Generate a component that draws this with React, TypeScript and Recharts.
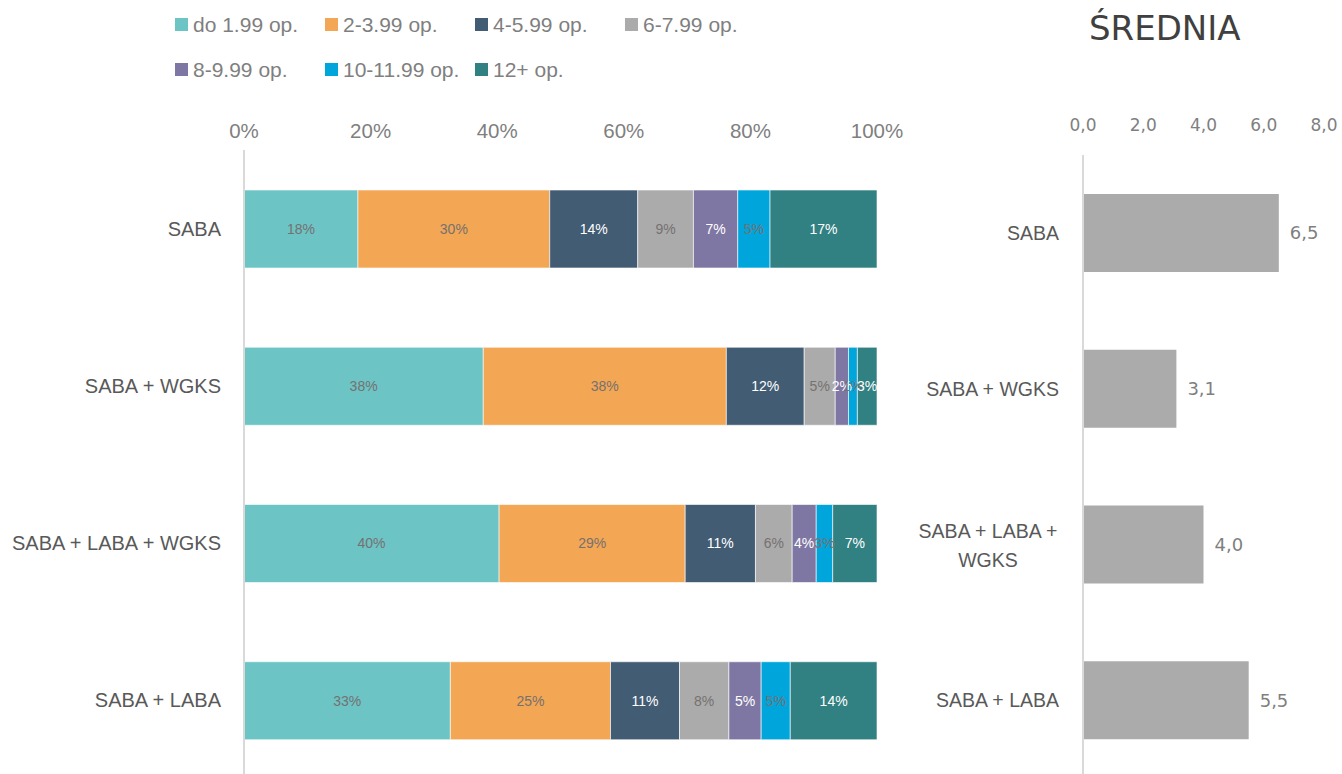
import React from 'react';
import { BarChart, Bar, XAxis, YAxis, LabelList } from 'recharts';

const categories = ['SABA', 'SABA + WGKS', 'SABA + LABA + WGKS', 'SABA + LABA'];

const seriesNames = ['do 1.99 op.', '2-3.99 op.', '4-5.99 op.', '6-7.99 op.', '8-9.99 op.', '10-11.99 op.', '12+ op.'];
const seriesColors = ['#6CC4C5', '#F3A653', '#425C74', '#ABABAB', '#7F77A3', '#00A5DC', '#318182'];
const labelColors = ['#767171', '#767171', '#FFFFFF', '#767171', '#FFFFFF', '#767171', '#FFFFFF'];

// share of patients per category, in %
const s1 = [18.0, 37.8, 40.3, 32.6];
const s2 = [30.3, 38.4, 29.4, 25.3];
const s3 = [13.9, 12.3, 11.1, 10.9];
const s4 = [8.8, 4.9, 5.8, 7.8];
const s5 = [7.0, 2.1, 3.8, 5.1];
const s6 = [5.1, 1.4, 2.6, 4.6];
const s7 = [16.9, 3.1, 7.0, 13.7];
const seriesValues = [s1, s2, s3, s4, s5, s6, s7];

const averages = [6.5, 3.1, 4.0, 5.5];

const pctTicks = [0, 20, 40, 60, 80, 100];
const avgTicks = [0, 2, 4, 6, 8];

const stackData = categories.map((name, i) => {
  const row: Record<string, string | number> = { name };
  seriesValues.forEach((vals, k) => {
    row['s' + k] = vals[i];
  });
  return row;
});

const avgData = categories.map((name, i) => ({ name, avg: averages[i] }));

const leftFont = '"Liberation Sans", Arial, sans-serif';
const rightFont = '"DejaVu Sans", sans-serif';

function LegendBox() {
  return (
    <div style={{ position: 'absolute', left: 175, top: 2, display: 'flex', flexWrap: 'wrap', width: 600, fontFamily: leftFont, fontSize: 21, color: '#7F7F7F' }}>
      {seriesNames.map((n, k) => (
        <div key={n} style={{ width: 150, height: 45, display: 'flex', alignItems: 'center', whiteSpace: 'nowrap' }}>
          <span style={{ display: 'inline-block', width: 13, height: 13, background: seriesColors[k], marginRight: 5 }} />
          <span>{n}</span>
        </div>
      ))}
    </div>
  );
}

function AvgTick(props: any) {
  const { x, y, payload } = props;
  const label: string = payload.value;
  if (label === 'SABA + LABA + WGKS') {
    const lines = ['SABA + LABA +', 'WGKS'];
    return (
      <text x={x - 71} y={y} textAnchor="middle" fill="#595959" fontSize={19.5} fontFamily={leftFont}>
        {lines.map((l, i) => (
          <tspan key={i} x={x - 71} dy={i === 0 ? -6 : 29}>{l}</tspan>
        ))}
      </text>
    );
  }
  return (
    <text x={x} y={y} dy={7} textAnchor="end" fill="#595959" fontSize={19.5} fontFamily={leftFont}>
      {label}
    </text>
  );
}

export default function App() {
  return (
    <div style={{ position: 'absolute', left: 0, top: 0, width: 1342, height: 774, background: '#fff', overflow: 'hidden' }}>
      <LegendBox />
      <div style={{ position: 'absolute', left: 0, top: 0 }}>
        <BarChart
          width={930}
          height={780}
          data={stackData}
          layout="vertical"
          barSize={78}
          margin={{ top: 120, right: 53, left: 0, bottom: 1 }}
        >
          <XAxis
            type="number"
            orientation="top"
            domain={[0, 100]}
            ticks={pctTicks}
            tickFormatter={(v) => v + '%'}
            axisLine={false}
            tickLine={false}
            height={30}
            tick={{ fill: '#7F7F7F', fontSize: 20.5, fontFamily: leftFont }}
            tickMargin={6}
            interval={0}
          />
          <YAxis
            type="category"
            dataKey="name"
            width={244}
            axisLine={{ stroke: '#D9D9D9', strokeWidth: 2 }}
            tickLine={false}
            tickMargin={17}
            tick={{ fill: '#595959', fontSize: 20, fontFamily: leftFont }}
          />
          {seriesNames.map((n, k) => (
            <Bar
              key={n}
              dataKey={'s' + k}
              name={n}
              stackId="a"
              fill={seriesColors[k]}
              stroke="#FFFFFF"
              strokeWidth={0.6}
              isAnimationActive={false}
            >
              <LabelList
                dataKey={'s' + k}
                position="center"
                formatter={(v: any) => Math.round(Number(v)) + '%'}
                fill={labelColors[k]}
                fontSize={14}
                fontFamily={leftFont}
              />
            </Bar>
          ))}
        </BarChart>
      </div>

      <div
        style={{
          position: 'absolute',
          left: 1089,
          top: 8,
          fontFamily: rightFont,
          fontSize: 34,
          color: '#404040',
        }}
      >
        ŚREDNIA
      </div>

      <div style={{ position: 'absolute', left: 880, top: 0 }}>
        <BarChart
          width={462}
          height={780}
          data={avgData}
          layout="vertical"
          barSize={78}
          margin={{ top: 125, right: 18, left: 0, bottom: 2 }}
        >
          <XAxis
            type="number"
            orientation="top"
            domain={[0, 8]}
            ticks={avgTicks}
            tickFormatter={(v) => Number(v).toFixed(1).replace('.', ',')}
            axisLine={false}
            tickLine={false}
            height={30}
            tick={{ fill: '#7F7F7F', fontSize: 17, fontFamily: rightFont }}
            tickMargin={18}
            interval={0}
          />
          <YAxis
            type="category"
            dataKey="name"
            width={203}
            axisLine={{ stroke: '#D9D9D9', strokeWidth: 2 }}
            tickLine={false}
            tickMargin={18}
            tick={<AvgTick />}
          />
          <Bar dataKey="avg" fill="#ABABAB" isAnimationActive={false}>
            <LabelList
              dataKey="avg"
              position="right"
              offset={11}
              formatter={(v: any) => Number(v).toFixed(1).replace('.', ',')}
              fill="#7F7F7F"
              fontSize={18}
              fontFamily={rightFont}
            />
          </Bar>
        </BarChart>
      </div>
    </div>
  );
}
